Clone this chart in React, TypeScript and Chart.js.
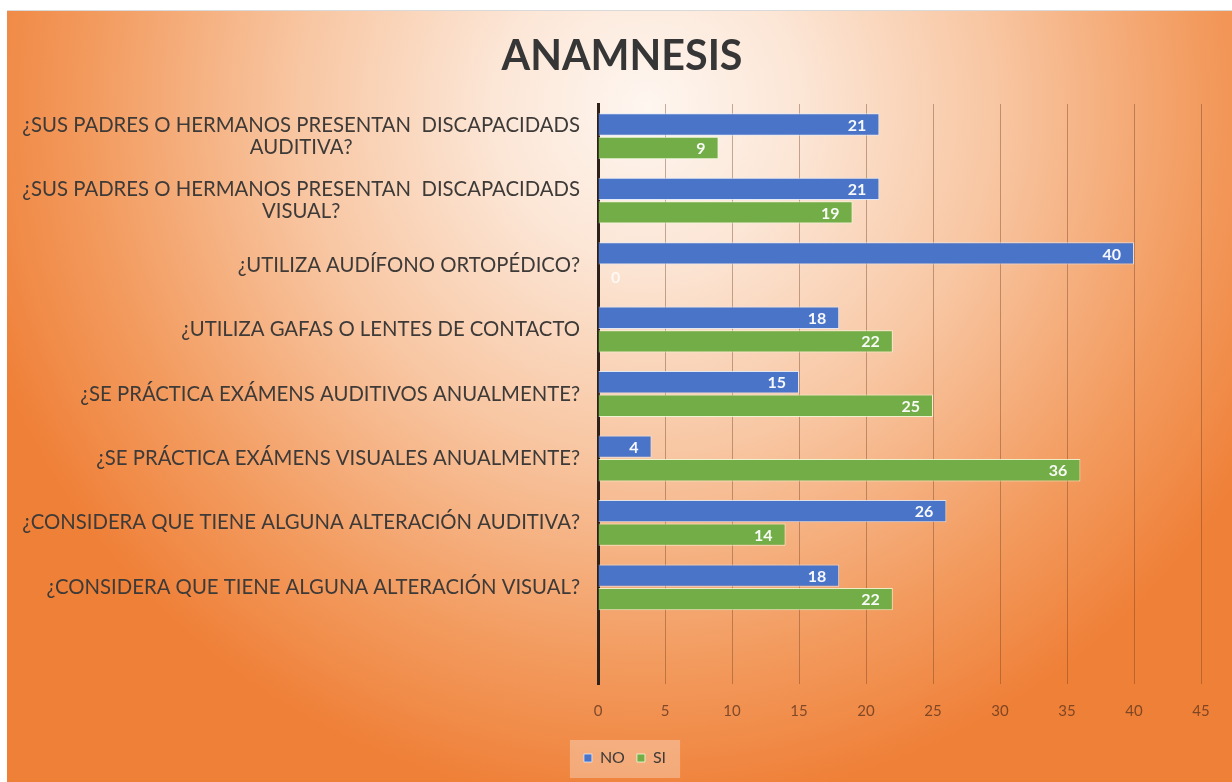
import React, { useEffect, useRef } from "react";
import { Chart, registerables } from "chart.js";

Chart.register(...registerables);

const chartTitle = "ANAMNESIS";
const categories: (string | string[])[] = [
  ["¿SUS PADRES O HERMANOS PRESENTAN  DISCAPACIDADS", "AUDITIVA?"],
  ["¿SUS PADRES O HERMANOS PRESENTAN  DISCAPACIDADS", "VISUAL?"],
  "¿UTILIZA AUDÍFONO ORTOPÉDICO?",
  "¿UTILIZA GAFAS O LENTES DE CONTACTO",
  "¿SE PRÁCTICA EXÁMENS AUDITIVOS ANUALMENTE?",
  "¿SE PRÁCTICA EXÁMENS VISUALES ANUALMENTE?",
  "¿CONSIDERA QUE TIENE ALGUNA ALTERACIÓN AUDITIVA?",
  "¿CONSIDERA QUE TIENE ALGUNA ALTERACIÓN VISUAL?",
  "",
];
const seriesNames = ["NO", "SI"];
const noValues: (number | null)[] = [21, 21, 40, 18, 15, 4, 26, 18, null];
const siValues: (number | null)[] = [9, 19, 0, 22, 25, 36, 14, 22, null];
const xMin = 0;
const xMax = 45;
const xStep = 5;

const FONT = "Lato, 'Open Sans', sans-serif";
const LABEL_COLOR = "#3d3a38";

function fitFont(ctx: CanvasRenderingContext2D, text: string, weight: string, target: number, base = 20) {
  ctx.font = `${weight} ${base}px ${FONT}`;
  const w = ctx.measureText(text).width;
  return (base * target) / w;
}

const bgPlugin = {
  id: "bgPlugin",
  beforeDraw(chart: any) {
    const { ctx, width, height } = chart;
    ctx.save();
    const g = ctx.createRadialGradient(640, 95, 0, 640, 95, 700);
    g.addColorStop(0, "#fef6f0");
    g.addColorStop(0.22, "#fce6d6");
    g.addColorStop(0.5, "#f8c6a2");
    g.addColorStop(0.78, "#f39d62");
    g.addColorStop(1, "#ef8038");
    ctx.fillStyle = g;
    ctx.fillRect(0, 0, width, height);
    // legend background box
    const lg = chart.legend;
    if (lg && lg.legendHitBoxes && lg.legendHitBoxes.length) {
      const hb = lg.legendHitBoxes;
      let l = Infinity, r = -Infinity, t = Infinity, b = -Infinity;
      hb.forEach((h: any) => {
        l = Math.min(l, h.left);
        r = Math.max(r, h.left + h.width);
        t = Math.min(t, h.top);
        b = Math.max(b, h.top + h.height);
      });
      ctx.fillStyle = "rgba(255,255,255,0.3)";
      ctx.fillRect(l - 14, t - 10, r - l + 28, b - t + 22);
    }
    ctx.restore();
  },
  afterDraw(chart: any) {
    const { ctx } = chart;
    ctx.save();
    // title
    const ts = fitFont(ctx, chartTitle, "bold", 241, 34);
    ctx.font = `bold ${ts}px ${FONT}`;
    ctx.fillStyle = "#363636";
    ctx.textAlign = "center";
    ctx.textBaseline = "middle";
    ctx.fillText(chartTitle, 615, 46);
    // category labels
    const ys = chart.scales.y;
    const longest = "¿CONSIDERA QUE TIENE ALGUNA ALTERACIÓN AUDITIVA?";
    const fs = fitFont(ctx, longest, "normal", 558, 18);
    ctx.font = `normal ${fs}px ${FONT}`;
    ctx.fillStyle = LABEL_COLOR;
    const right = ys.right - 18;
    categories.forEach((lab, i) => {
      const y = ys.getPixelForValue(i);
      if (Array.isArray(lab)) {
        const w0 = ctx.measureText(lab[0]).width;
        ctx.textAlign = "right";
        ctx.fillText(lab[0], right, y - 11);
        ctx.textAlign = "center";
        ctx.fillText(lab[1], right - w0 / 2, y + 11);
      } else if (lab) {
        ctx.textAlign = "right";
        ctx.fillText(lab, right, y);
      }
    });
    ctx.restore();
  },
  afterDatasetsDraw(chart: any) {
    const { ctx } = chart;
    ctx.save();
    ctx.font = `bold 16px ${FONT}`;
    ctx.textBaseline = "middle";
    chart.data.datasets.forEach((ds: any, di: number) => {
      const meta = chart.getDatasetMeta(di);
      meta.data.forEach((el: any, i: number) => {
        const v = ds.data[i];
        if (v === null || v === undefined) return;
        const txt = String(v);
        if (v === 0) {
          ctx.fillStyle = "rgba(255,255,255,0.75)";
          ctx.textAlign = "left";
          ctx.fillText(txt, el.base + 13, el.y + 1);
        } else {
          ctx.fillStyle = "rgba(255,255,255,0.95)";
          ctx.textAlign = "right";
          ctx.fillText(txt, el.x - 13, el.y + 1);
        }
      });
    });
    ctx.restore();
  },
};

export default function App() {
  const ref = useRef<HTMLCanvasElement | null>(null);
  useEffect(() => {
    if (!ref.current) return;
    const chart = new Chart(ref.current, {
      type: "bar",
      data: {
        labels: categories as any,
        datasets: [
          {
            label: seriesNames[0],
            data: noValues,
            backgroundColor: "#4a74c8",
            borderColor: "rgba(220,235,255,0.8)",
            borderWidth: 1,
            categoryPercentage: 0.73,
            barPercentage: 0.95,
          },
          {
            label: seriesNames[1],
            data: siValues,
            backgroundColor: "#72ad47",
            borderColor: "rgba(235,255,220,0.8)",
            borderWidth: 1,
            categoryPercentage: 0.73,
            barPercentage: 0.95,
          },
        ],
      },
      options: {
        indexAxis: "y",
        animation: false,
        responsive: true,
        maintainAspectRatio: false,
        layout: { padding: { top: 93, right: 31, bottom: 7, left: 42 } },
        scales: {
          x: {
            type: "linear",
            min: xMin,
            max: xMax,
            ticks: {
              stepSize: xStep,
              color: "rgba(100,55,30,0.8)",
              font: { family: FONT, size: 15 },
              padding: 18,
            },
            grid: { color: "rgba(110,60,30,0.4)", lineWidth: 1, drawTicks: false },
            border: { display: false },
          },
          y: {
            type: "category",
            ticks: { display: false },
            grid: { display: false, drawTicks: false },
            border: { display: true, color: "#2e2119", width: 3 },
            afterFit: (s: any) => {
              s.width = 549;
            },
          },
        },
        plugins: {
          title: { display: false },
          tooltip: { enabled: false },
          legend: {
            display: true,
            position: "bottom",
            labels: {
              boxWidth: 8,
              boxHeight: 8,
              color: LABEL_COLOR,
              font: { family: FONT, size: 16 },
              padding: 12,
            },
          },
        },
      },
      plugins: [bgPlugin],
    } as any);
    return () => chart.destroy();
  }, []);
  return (
    <div style={{ position: "absolute", left: 7, top: 10, width: 1225, height: 772, borderTop: "1px solid #d9d9d9" }}>
      <canvas ref={ref} />
    </div>
  );
}
